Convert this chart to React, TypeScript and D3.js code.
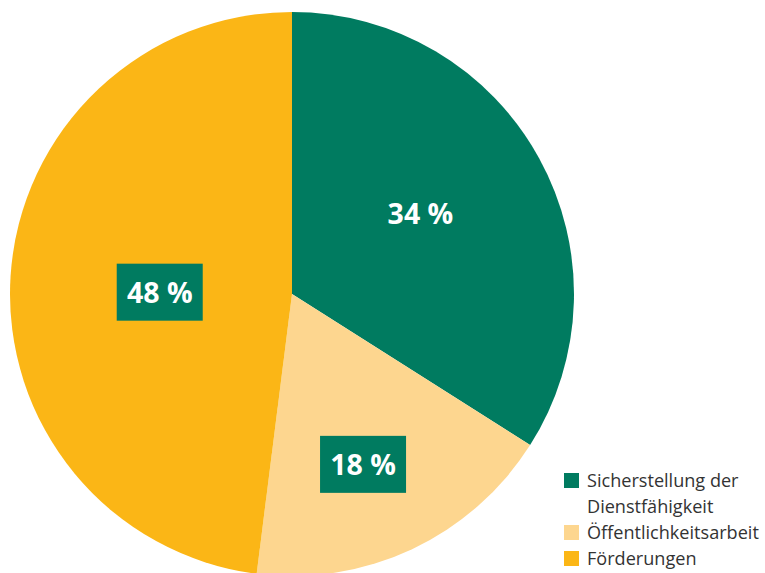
import React from "react";
import * as d3 from "d3";

const categories = ["Sicherstellung der Dienstfähigkeit", "Öffentlichkeitsarbeit", "Förderungen"];
const legendLines = [["Sicherstellung der", "Dienstfähigkeit"], ["Öffentlichkeitsarbeit"], ["Förderungen"]];
const values = [34, 18, 48];
const labels = ["34 %", "18 %", "48 %"];
const colors = ["#007B60", "#FDD68F", "#FBB616"];
const labelBoxed = [false, true, true];
const labelRadiusFrac = [0.54, 0.65, 0.47];
const labelNudge = [[-5, -7], [-7, 5], [0, 7]];

const W = 765, H = 573;
const cx = 292, cy = 294, R = 282;

export default function App() {
  const pie = d3.pie<number>().sort(null).value((d) => d);
  const arcs = pie(values);
  const arcGen = d3.arc<d3.PieArcDatum<number>>().innerRadius(0).outerRadius(R);

  let ly = 487;
  const legend = legendLines.map((lines, i) => {
    const y0 = ly;
    ly += lines.length * 26;
    return (
      <g key={i}>
        <rect x={564} y={y0 - 14} width={15} height={15} fill={colors[i]} />
        {lines.map((t, j) => (
          <text key={j} x={587} y={y0 + j * 26} fontSize={18.1} fill="#333" fontFamily="'Open Sans', sans-serif">{t}</text>
        ))}
      </g>
    );
  });

  return (
    <svg width={W} height={H} style={{ position: "absolute", left: 0, top: 0 }}>
      <rect width={W} height={H} fill="#fff" />
      <g transform={`translate(${cx},${cy})`}>
        {arcs.map((a, i) => (
          <path key={i} d={arcGen(a) || ""} fill={colors[i]} />
        ))}
        {arcs.map((a, i) => {
          const lr = R * labelRadiusFrac[i];
          const c = d3.arc<d3.PieArcDatum<number>>().innerRadius(lr).outerRadius(lr).centroid(a);
          return (
            <g key={i} transform={`translate(${c[0] + labelNudge[i][0]},${c[1] + labelNudge[i][1]})`}>
              {labelBoxed[i] && <rect x={-43} y={-29} width={86} height={57} fill={colors[0]} />}
              <text textAnchor="middle" dy="0.36em" fill="#fff" fontSize={28.5} fontWeight="bold" fontFamily="'Open Sans', sans-serif">{labels[i]}</text>
            </g>
          );
        })}
      </g>
      {legend}
    </svg>
  );
}
